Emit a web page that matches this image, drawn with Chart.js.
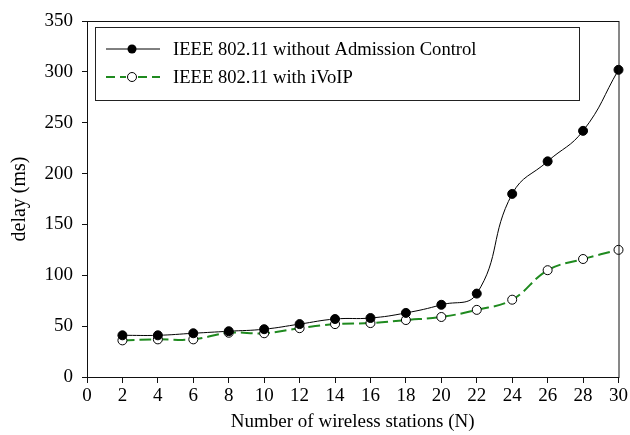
<!DOCTYPE html>
<html>
<head>
<meta charset="utf-8">
<script src="https://cdn.jsdelivr.net/npm/chart.js@4"></script>
<style>
  html, body { margin: 0; padding: 0; background: #fff; }
  #wrap { width: 630px; height: 435px; }
</style>
</head>
<body>
<div id="wrap"><canvas id="delayChart" width="630" height="435"></canvas></div>
<script>
// Data
const stations = [2, 4, 6, 8, 10, 12, 14, 16, 18, 20, 22, 24, 26, 28, 30];
const delayNoAC = [41, 41, 43, 45, 47, 52, 57, 58, 63, 71, 82, 180, 212, 242, 302];
const delayIVoIP = [36, 37, 37, 43.5, 43, 48, 52, 53, 56, 59, 66, 76, 105, 116, 125];
const xTicks = [0, 2, 4, 6, 8, 10, 12, 14, 16, 18, 20, 22, 24, 26, 28, 30];
const yTicks = [0, 50, 100, 150, 200, 250, 300, 350];

const seriesNames = ['IEEE 802.11 without Admission Control', 'IEEE 802.11 with iVoIP'];
const serif = "'Liberation Serif', 'DejaVu Serif', serif";
const green = '#1f8a1f';

// frame around the plot + boxed legend
const framePlugin = {
    id: 'frame',
    afterDraw(chart) {
        const ctx = chart.ctx;
        const a = chart.chartArea;
        ctx.save();
        ctx.strokeStyle = '#111';
        ctx.lineWidth = 1;
        ctx.strokeRect(a.left + 0.5, a.top + 0.5, a.right - a.left, a.bottom - a.top);

        // legend box
        const bx = a.left + 8, by = a.top + 6, bw = 484, bh = 73;
        ctx.fillStyle = '#fff';
        ctx.fillRect(bx, by, bw, bh);
        ctx.strokeStyle = '#222';
        ctx.strokeRect(bx + 0.5, by + 0.5, bw, bh);

        const rows = [by + 22, by + 50];
        const x0 = bx + 11, x1 = bx + 65, mx = bx + 37;
        ctx.font = '18.6px ' + serif;
        ctx.textBaseline = 'middle';

        // row 1
        ctx.strokeStyle = '#000';
        ctx.lineWidth = 1;
        ctx.setLineDash([]);
        ctx.beginPath(); ctx.moveTo(x0, rows[0]); ctx.lineTo(x1, rows[0]); ctx.stroke();
        ctx.fillStyle = '#000';
        ctx.beginPath(); ctx.arc(mx, rows[0], 4.5, 0, Math.PI * 2); ctx.fill();

        // row 2
        ctx.strokeStyle = green;
        ctx.lineWidth = 2;
        ctx.setLineDash([9, 5]);
        ctx.beginPath(); ctx.moveTo(x0, rows[1]); ctx.lineTo(mx - 6, rows[1]); ctx.stroke();
        ctx.beginPath(); ctx.moveTo(mx + 6, rows[1]); ctx.lineTo(x1, rows[1]); ctx.stroke();
        ctx.setLineDash([]);
        ctx.fillStyle = '#fff';
        ctx.strokeStyle = '#000';
        ctx.lineWidth = 1;
        ctx.beginPath(); ctx.arc(mx, rows[1], 4.5, 0, Math.PI * 2); ctx.fill(); ctx.stroke();

        ctx.fillStyle = '#000';
        ctx.fillText(seriesNames[0], bx + 78, rows[0] + 1);
        ctx.fillText(seriesNames[1], bx + 78, rows[1] + 1);
        ctx.restore();
    }
};

const ctx = document.getElementById('delayChart').getContext('2d');
new Chart(ctx, {
    type: 'line',
    data: {
        datasets: [{
            label: seriesNames[0],
            data: stations.map((s, i) => ({ x: s, y: delayNoAC[i] })),
            borderColor: '#000',
            borderWidth: 1,
            tension: 0.45,
            clip: false,
            pointRadius: 4.5,
            pointBackgroundColor: '#000',
            pointBorderColor: '#000',
            pointBorderWidth: 1
        }, {
            label: seriesNames[1],
            data: stations.map((s, i) => ({ x: s, y: delayIVoIP[i] })),
            borderColor: green,
            borderWidth: 2,
            borderDash: [12, 5],
            tension: 0.4,
            clip: false,
            pointRadius: 4.5,
            pointBackgroundColor: '#fff',
            pointBorderColor: '#000',
            pointBorderWidth: 1
        }]
    },
    options: {
        responsive: false,
        animation: false,
        layout: { padding: { top: 21, right: 11, left: 0, bottom: 0 } },
        plugins: {
            legend: { display: false },
            tooltip: { enabled: false }
        },
        scales: {
            x: {
                type: 'linear',
                min: 0,
                max: 30,
                afterBuildTicks: axis => { axis.ticks = xTicks.map(v => ({ value: v })); },
                afterFit: axis => { axis.height = 58; },
                grid: { drawOnChartArea: false, tickLength: 6, color: '#111' },
                border: { color: '#111' },
                ticks: { color: '#000', padding: 2, maxRotation: 0, autoSkip: false, font: { family: serif, size: 19 } },
                title: {
                    display: true,
                    text: 'Number of wireless stations (N)',
                    color: '#000',
                    padding: { top: 0, bottom: 2 },
                    font: { family: serif, size: 19 }
                }
            },
            y: {
                min: 0,
                max: 350,
                afterBuildTicks: axis => { axis.ticks = yTicks.map(v => ({ value: v })); },
                afterFit: axis => { axis.width = 87; },
                grid: { drawOnChartArea: false, tickLength: 5, color: '#111' },
                border: { color: '#111' },
                ticks: { color: '#000', padding: 9, font: { family: serif, size: 19 } },
                title: {
                    display: true,
                    text: 'delay (ms)',
                    color: '#000',
                    padding: { top: 8, bottom: 0 },
                    font: { family: serif, size: 20 }
                }
            }
        }
    },
    plugins: [framePlugin]
});
</script>
</body>
</html>
